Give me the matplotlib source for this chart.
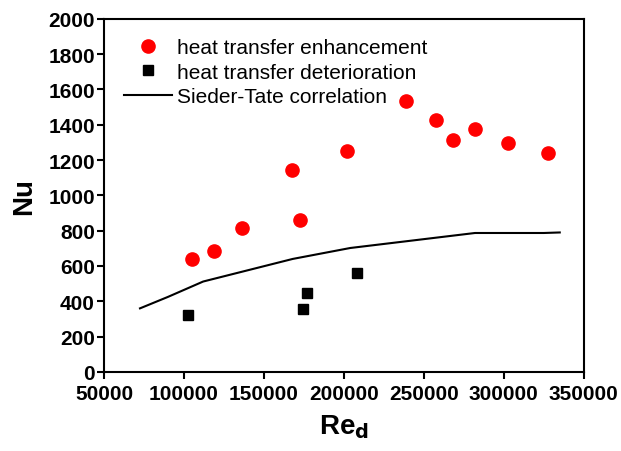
import matplotlib.pyplot as plt

plt.rcParams['font.family'] = ['Liberation Sans', 'DejaVu Sans']

# heat transfer enhancement
re_enh = [105000, 119000, 136600, 167600, 172300, 201900, 238800, 257900, 268400, 281800, 302400, 327400]
nu_enh = [641, 684, 816, 1142, 858, 1253, 1534, 1427, 1312, 1376, 1299, 1242]

# heat transfer deterioration
re_det = [102400, 174600, 177000, 208300]
nu_det = [324, 358, 445, 562]

# Sieder-Tate correlation
re_st = [72500, 90000, 112000, 168000, 204000, 282000, 325000, 335000]
nu_st = [360, 425, 512, 640, 702, 787, 787, 790]

fig = plt.figure(figsize=(6.21, 4.52), dpi=100)
ax = fig.add_axes([0.1675, 0.175, 0.7725, 0.781])

ax.plot(re_enh, nu_enh, 'o', color='red', markersize=9.5, label='heat transfer enhancement')
ax.plot(re_det, nu_det, 's', color='black', markersize=7.5, label='heat transfer deterioration')
ax.plot(re_st, nu_st, '-', color='black', linewidth=1.5, label='Sieder-Tate correlation')

ax.set_xlim(50000, 350000)
ax.set_ylim(0, 2000)
ax.set_xticks(range(50000, 350001, 50000))
ax.set_yticks(range(0, 2001, 200))

for lab in ax.get_xticklabels() + ax.get_yticklabels():
    lab.set_fontweight('bold')
    lab.set_fontsize(15)

ax.tick_params(direction='out', length=5, width=1.5)
ax.tick_params(axis='x', pad=4)
ax.tick_params(axis='y', pad=1.5)
for s in ax.spines.values():
    s.set_linewidth(1.5)

ax.set_xlabel('Re$_\\mathbf{d}$', fontsize=20, fontweight='bold', labelpad=6)
ax.set_ylabel('Nu', fontsize=20, fontweight='bold', labelpad=8)

ax.legend(loc='upper left', bbox_to_anchor=(0.024, 0.97), frameon=False, fontsize=15,
          handlelength=2.3, handletextpad=0.25, labelspacing=0.28, borderaxespad=0)

fig.savefig('out.png', dpi=100)
